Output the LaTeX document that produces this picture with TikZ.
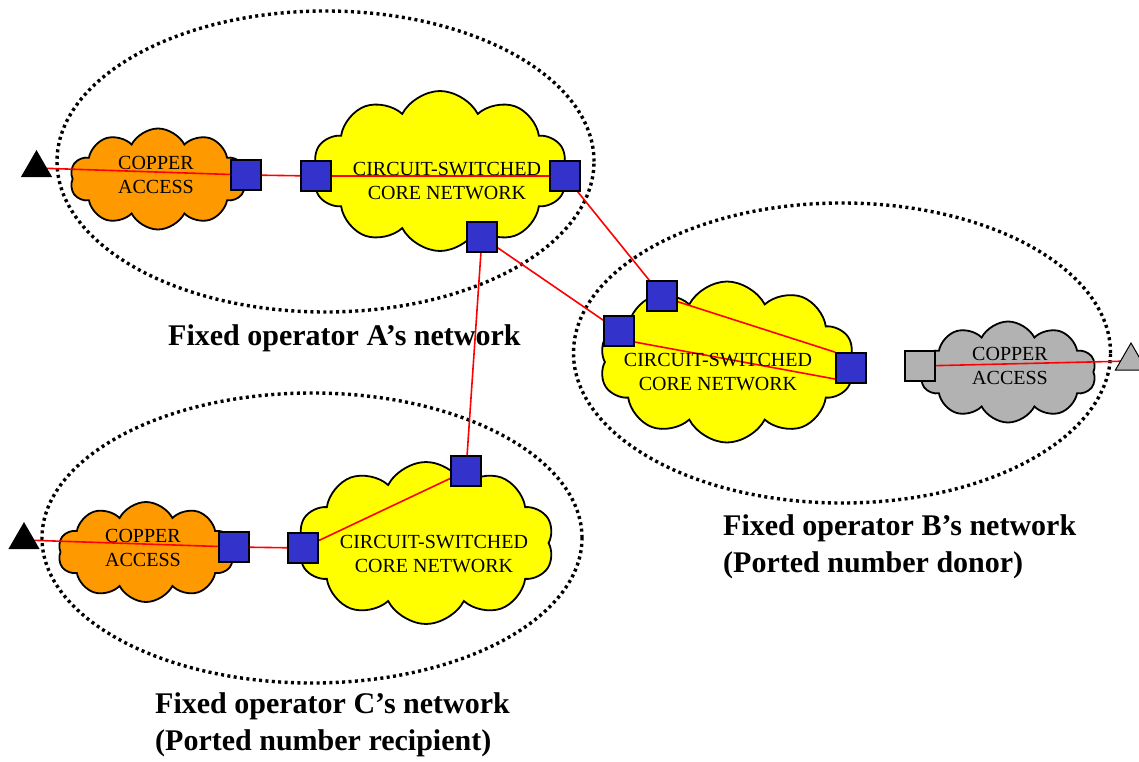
\documentclass[tikz,border=0pt]{standalone}
\usepackage{fontspec}
\setmainfont{Liberation Serif}
\usetikzlibrary{shapes.symbols,shapes.geometric}
\definecolor{cuorange}{HTML}{FF9900}
\definecolor{cuyellow}{HTML}{FFFF00}
\definecolor{cublue}{HTML}{3333CC}
\definecolor{cugrey}{HTML}{B2B2B2}
\pgfdeclarelayer{bg}
\pgfdeclarelayer{mid}
\pgfsetlayers{bg,mid,main}
\tikzset{
  netcloud/.style={cloud, cloud puffs=10, cloud puff arc=125, cloud ignores aspect,
    draw=black, line width=1.8pt, inner sep=0pt},
  cloudtext/.style={align=center, font=\fontsize{20}{24}\selectfont, inner sep=0pt},
  node box/.style={rectangle, draw=black, line width=1.6pt, fill=cublue,
    minimum width=30pt, minimum height=30pt, inner sep=0pt},
  grey box/.style={node box, fill=cugrey},
  terminal/.style={regular polygon, regular polygon sides=3, fill=black,
    minimum size=36pt, inner sep=0pt},
  link/.style={red, line width=1.6pt},
  opdomain/.style={draw=black, line width=3.4pt, dash pattern=on 3pt off 3.4pt},
  netlabel/.style={align=left, font=\bfseries\fontsize{30}{37}\selectfont, inner sep=0pt, anchor=base west},
}
\begin{document}
\begin{tikzpicture}[x=1pt,y=-1pt]
\useasboundingbox (0,0) rectangle (1139,762);
\begin{pgfonlayer}{bg}
% clouds
\node[netcloud, fill=cuorange, minimum width=176pt, minimum height=101pt] (ca) at (158,179) {};
\node[netcloud, fill=cuyellow, minimum width=255pt, minimum height=160pt] (kA) at (440,171) {};
\node[netcloud, fill=cuyellow, minimum width=255pt, minimum height=161pt] (kB) at (727,362) {};
\node[netcloud, fill=cugrey, minimum width=176pt, minimum height=101pt] (cb) at (1008,372) {};
\node[netcloud, fill=cuorange, minimum width=176pt, minimum height=100pt] (cc) at (146,552) {};
\node[netcloud, fill=cuyellow, minimum width=256pt, minimum height=162pt] (kC) at (426,543) {};
% domains
\node[ellipse, opdomain, minimum width=537pt, minimum height=301pt] (eA) at (325.5,161.5) {};
\node[ellipse, opdomain, minimum width=537pt, minimum height=300pt] (eB) at (842,353) {};
\node[ellipse, opdomain, minimum width=540pt, minimum height=290pt] (eC) at (312,538) {};
\end{pgfonlayer}
% texts in clouds
\node[cloudtext] (tca) at (156,175) {COPPER\\ACCESS};
\node[cloudtext] (tka) at (447,181) {CIRCUIT-SWITCHED\\CORE NETWORK};
\node[cloudtext] (tkb) at (718,372) {CIRCUIT-SWITCHED\\CORE NETWORK};
\node[cloudtext] (tcb) at (1010,366) {COPPER\\ACCESS};
\node[cloudtext] (tcc) at (143,548) {COPPER\\ACCESS};
\node[cloudtext] (tkc) at (434,554) {CIRCUIT-SWITCHED\\CORE NETWORK};
% terminals
\node[terminal] (tA) at (36.5,168) {};
\node[terminal] (tC) at (24,540) {};
\node[terminal, fill=cugrey, draw=black, line width=1pt] (tB) at (1131,361) {};
% switches
\node[node box] (a1) at (246,175) {};
\node[node box] (a2) at (316,176) {};
\node[node box] (a3) at (565,176) {};
\node[node box] (a4) at (482,237) {};
\node[node box] (b1) at (662,296) {};
\node[node box] (b2) at (619,331) {};
\node[node box] (b3) at (851,368) {};
\node[grey box] (b4) at (920,366) {};
\node[node box] (c1) at (466,471) {};
\node[node box] (c2) at (303,548) {};
\node[node box] (c3) at (234,547) {};
% links
\begin{pgfonlayer}{mid}
\draw[link] (tA.center) -- (a1.center);
\draw[link] (a1.center) -- (a2.center);
\draw[link] (a2.center) -- (a3.center);
\draw[link] (a3.center) -- (b1.center);
\draw[link] (a4.center) -- (b2.center);
\draw[link] (a4.center) -- (c1.center);
\draw[link] (b1.-20) -- (b3.north west);
\draw[link] (b2.-35) -- (b3.-145);
\draw[link] (b4.center) -- (tB.center);
\draw[link] (tC.center) -- (c3.center);
\draw[link] (c3.center) -- (c2.center);
\draw[link] (c2.center) -- (c1.center);
\end{pgfonlayer}
% labels
\node[netlabel] (lA) at (168,345) {Fixed operator A’s network};
\node[netlabel] (lB) at (723,572) {Fixed operator B’s network\\(Ported number donor)};
\node[netlabel] (lC) at (155,750) {Fixed operator C’s network\\(Ported number recipient)};
\end{tikzpicture}
\end{document}
